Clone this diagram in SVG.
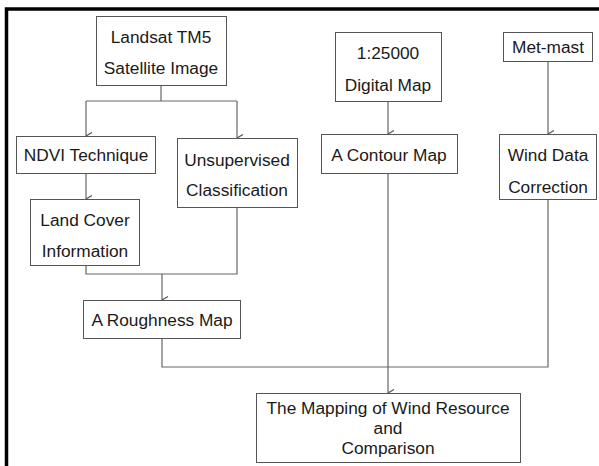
<svg xmlns="http://www.w3.org/2000/svg" width="599" height="466" viewBox="0 0 599 466">
<defs>
<style>
.box{fill:#fff;stroke:#555;stroke-width:1}
.t{font-family:"Liberation Sans",Arial,sans-serif;font-size:17.3px;fill:#1a1a1a;text-anchor:middle}
.c{fill:none;stroke:#666;stroke-width:1.2}
</style>
<marker id="ah" viewBox="0 0 10 10" refX="5" refY="10" markerWidth="10" markerHeight="10" markerUnits="userSpaceOnUse" orient="auto-start-reverse">
<path d="M1.5,4 L5,10 L8.5,4" fill="none" stroke="#555" stroke-width="1.2"/>
</marker>
</defs>
<rect x="0" y="0" width="599" height="466" fill="#fff"/>
<path d="M6.5,470 V9 H605" fill="none" stroke="#000" stroke-width="3.5"/>
<g id="connectors">
<path class="c" d="M161,85 V101"/>
<path class="c" d="M86,101 H237"/>
<path class="c" d="M86,101 V136" marker-end="url(#ah)"/>
<path class="c" d="M237,101 V138" marker-end="url(#ah)"/>
<path class="c" d="M86,173 V199" marker-end="url(#ah)"/>
<path class="c" d="M86,265 V274 H237 V207"/>
<path class="c" d="M162,274 V300" marker-end="url(#ah)"/>
<path class="c" d="M388,101 V134" marker-end="url(#ah)"/>
<path class="c" d="M548,61 V134" marker-end="url(#ah)"/>
<path class="c" d="M162,338 V367 H548 V199"/>
<path class="c" d="M388,173 V393" marker-end="url(#ah)"/>
</g>
<g id="landsat"><rect class="box" x="96.5" y="16.5" width="130" height="69"/><text class="t" x="161" y="43">Landsat TM5</text><text class="t" x="161" y="74">Satellite Image</text></g>
<g id="ndvi"><rect class="box" x="16.5" y="136.5" width="139" height="37"/><text class="t" x="86" y="161">NDVI Technique</text></g>
<g id="unsupervised"><rect class="box" x="177.5" y="138.5" width="120" height="69"/><text class="t" x="237" y="166">Unsupervised</text><text class="t" x="237" y="196">Classification</text></g>
<g id="landcover"><rect class="box" x="30.5" y="199.5" width="109" height="66"/><text class="t" x="85" y="226">Land Cover</text><text class="t" x="85" y="257">Information</text></g>
<g id="roughness"><rect class="box" x="83.5" y="300.5" width="157" height="38"/><text class="t" x="162" y="326">A Roughness Map</text></g>
<g id="digitalmap"><rect class="box" x="335.5" y="32.5" width="106" height="69"/><text class="t" x="388" y="59">1:25000</text><text class="t" x="388" y="91">Digital Map</text></g>
<g id="contour"><rect class="box" x="321.5" y="134.5" width="136" height="39"/><text class="t" x="389" y="161">A Contour Map</text></g>
<g id="metmast"><rect class="box" x="503.5" y="32.5" width="89" height="29"/><text class="t" x="548" y="53">Met-mast</text></g>
<g id="wind"><rect class="box" x="499.5" y="134.5" width="97" height="65"/><text class="t" x="548" y="161">Wind Data</text><text class="t" x="548" y="193">Correction</text></g>
<g id="mapping"><rect class="box" x="256.5" y="393.5" width="264" height="69"/><text class="t" x="388" y="414">The Mapping of Wind Resource</text><text class="t" x="388" y="434">and</text><text class="t" x="388" y="454">Comparison</text></g>
</svg>
